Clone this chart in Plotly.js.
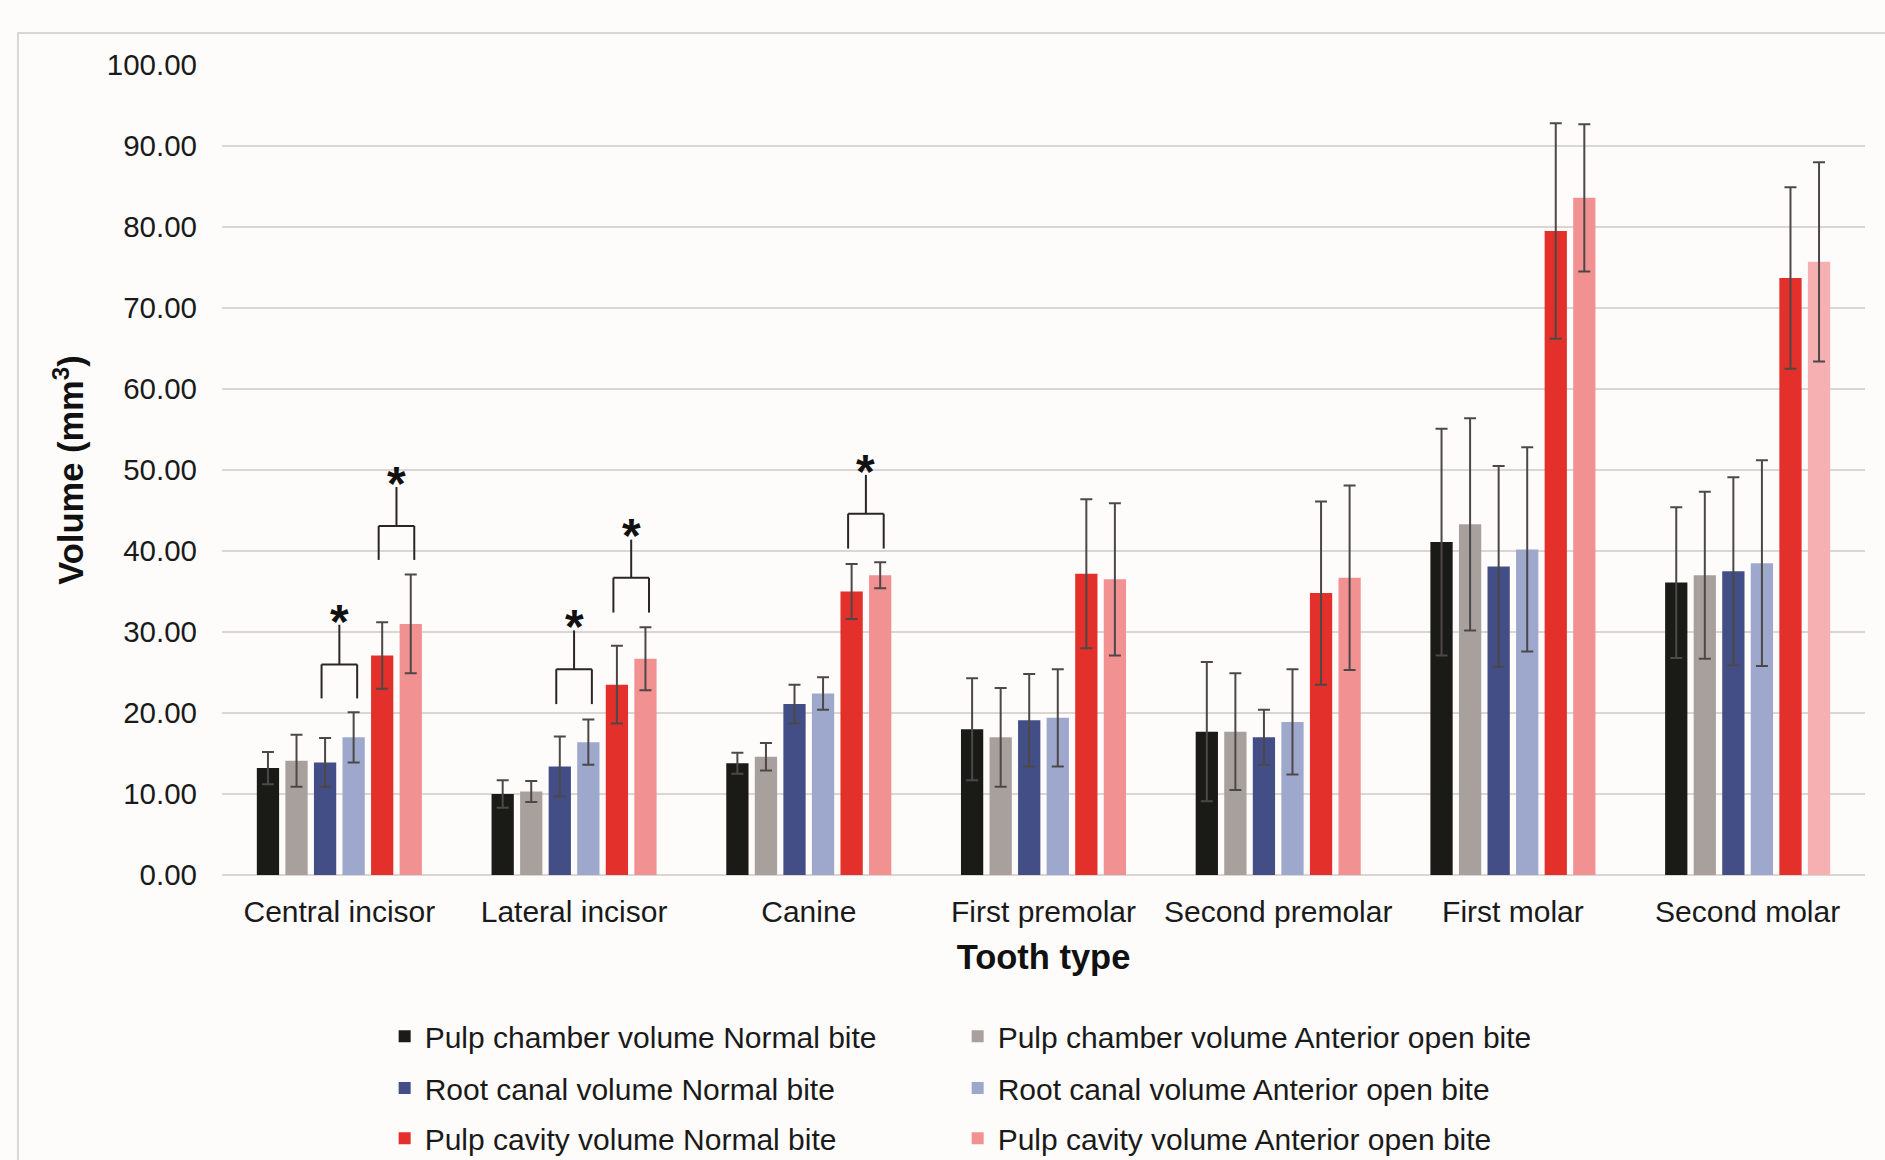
<!DOCTYPE html>
<html>
<head>
<meta charset="utf-8">
<script src="https://cdn.plot.ly/plotly-3.0.1.min.js"></script>
<style>html,body{margin:0;padding:0;background:#fdfcfb;}#chart{width:1885px;height:1160px;}</style>
</head>
<body>
<div id="chart"></div>
<script>
// ---- data ----
const categories = ['Central incisor', 'Lateral incisor', 'Canine', 'First premolar', 'Second premolar', 'First molar', 'Second molar'];
const seriesNames = [
  'Pulp chamber volume Normal bite',
  'Pulp chamber volume Anterior open bite',
  'Root canal volume Normal bite',
  'Root canal volume Anterior open bite',
  'Pulp cavity volume Normal bite',
  'Pulp cavity volume Anterior open bite'
];
const pulpChamberNormal = [13.2, 10.0, 13.8, 18.0, 17.7, 41.1, 36.1];
const pulpChamberNormalSD = [2.0, 1.7, 1.3, 6.3, 8.6, 14.0, 9.3];
const pulpChamberOpen = [14.1, 10.3, 14.6, 17.0, 17.7, 43.3, 37.0];
const pulpChamberOpenSD = [3.2, 1.3, 1.7, 6.1, 7.2, 13.1, 10.3];
const rootCanalNormal = [13.9, 13.4, 21.1, 19.1, 17.0, 38.1, 37.5];
const rootCanalNormalSD = [3.0, 3.7, 2.4, 5.7, 3.4, 12.4, 11.6];
const rootCanalOpen = [17.0, 16.4, 22.4, 19.4, 18.9, 40.2, 38.5];
const rootCanalOpenSD = [3.1, 2.8, 2.0, 6.0, 6.5, 12.6, 12.7];
const pulpCavityNormal = [27.1, 23.5, 35.0, 37.2, 34.8, 79.5, 73.7];
const pulpCavityNormalSD = [4.1, 4.8, 3.4, 9.2, 11.3, 13.3, 11.2];
const pulpCavityOpen = [31.0, 26.7, 37.0, 36.5, 36.7, 83.6, 75.7];
const pulpCavityOpenSD = [6.1, 3.9, 1.6, 9.4, 11.4, 9.1, 12.3];

// significance brackets (category, left series index, leg bottom, bracket level, stem top, star)
const sigCategory = ['Central incisor', 'Central incisor', 'Lateral incisor', 'Lateral incisor', 'Canine'];
const sigLeftSeries = [2, 4, 2, 4, 4];
const sigLegBottom = [21.8, 38.9, 21.1, 32.4, 40.3];
const sigLevel = [26.0, 43.1, 25.4, 36.7, 44.6];
const sigStemTop = [30.9, 47.9, 30.2, 41.4, 49.4];
const sigStar = [32.5, 49.6, 31.9, 43.1, 51.1];

// ---- styles ----
const colors = ['#1a1b16', '#a8a09d', '#444e86', '#9da8cc', '#e3302a', '#f29192'];
const pinkPerCategory = ['#f29192', '#f29192', '#f29192', '#f29192', '#f29192', '#f29192', '#f6b0b2'];
const FONT = 'Liberation Sans, Arial, Helvetica, sans-serif';
const BARGAP = 0.27;
const legendOf = ['legend', 'legend', 'legend2', 'legend2', 'legend3', 'legend3'];

const values = [pulpChamberNormal, pulpChamberOpen, rootCanalNormal, rootCanalOpen, pulpCavityNormal, pulpCavityOpen];
const sds = [pulpChamberNormalSD, pulpChamberOpenSD, rootCanalNormalSD, rootCanalOpenSD, pulpCavityNormalSD, pulpCavityOpenSD];

const traces = values.map((v, i) => ({
  type: 'bar',
  name: seriesNames[i],
  x: categories,
  y: v,
  legend: legendOf[i],
  marker: { color: i === 5 ? pinkPerCategory : colors[i], line: { width: 0 } },
  error_y: { type: 'data', array: sds[i], visible: true, color: '#4d4848', thickness: 2, width: 6 },
  hoverinfo: 'x+y+name'
}));

// bracket shapes via category index + bar offset
const nSeries = values.length;
const slot = (1 - BARGAP) / nSeries;
const seriesCenter = k => -(1 - BARGAP) / 2 + (k + 0.5) * slot;
const shapes = [];
const annotations = [];
sigCategory.forEach((c, j) => {
  const idx = categories.indexOf(c);
  const k = sigLeftSeries[j];
  const xl = idx + seriesCenter(k) - 0.015;
  const xr = idx + seriesCenter(k + 1) + 0.015;
  const xm = (xl + xr) / 2;
  const ln = { color: '#2a2626', width: 2 };
  shapes.push({ type: 'line', xref: 'x', yref: 'y', x0: xl, x1: xl, y0: sigLegBottom[j], y1: sigLevel[j], line: ln });
  shapes.push({ type: 'line', xref: 'x', yref: 'y', x0: xr, x1: xr, y0: sigLegBottom[j], y1: sigLevel[j], line: ln });
  shapes.push({ type: 'line', xref: 'x', yref: 'y', x0: xl, x1: xr, y0: sigLevel[j], y1: sigLevel[j], line: ln });
  shapes.push({ type: 'line', xref: 'x', yref: 'y', x0: xm, x1: xm, y0: sigLevel[j], y1: sigStemTop[j], line: ln });
  annotations.push({ xref: 'x', yref: 'y', x: xm, y: sigStar[j], text: '<b>*</b>', showarrow: false,
    yanchor: 'middle', xanchor: 'center', yshift: -10, font: { family: FONT, size: 48, color: '#111' } });
});
// outer frame
shapes.push({ type: 'rect', xref: 'paper', yref: 'paper', x0: -0.1242, x1: 1.3, y0: 1.0395, y1: -0.5,
  line: { color: '#dcd6d3', width: 2 }, fillcolor: 'rgba(0,0,0,0)', layer: 'below' });

const legendBase = {
  orientation: 'h', xanchor: 'left', yanchor: 'middle', x: 0.099,
  entrywidth: 528, entrywidthmode: 'pixels', bgcolor: 'rgba(0,0,0,0)',
  font: { family: FONT, size: 30, color: '#1a1a1a' }, itemclick: false, itemdoubleclick: false
};

const layout = {
  width: 1885, height: 1160,
  margin: { l: 222, r: 20, t: 65, b: 285, autoexpand: false },
  paper_bgcolor: '#fdfcfb', plot_bgcolor: '#fdfcfb',
  font: { family: FONT, color: '#1a1a1a' },
  barmode: 'group', bargap: BARGAP, bargroupgap: 0.22,
  showlegend: true,
  legend: Object.assign({}, legendBase, { y: -0.199 }),
  legend2: Object.assign({}, legendBase, { y: -0.263 }),
  legend3: Object.assign({}, legendBase, { y: -0.325 }),
  xaxis: {
    type: 'category', ticks: '', showgrid: false, showline: false, zeroline: false,
    tickfont: { family: FONT, size: 30, color: '#1a1a1a' }, ticklabelstandoff: 16,
    title: { text: '<b>Tooth type</b>', font: { family: FONT, size: 34.5, color: '#111' }, standoff: 17 }
  },
  yaxis: {
    range: [0, 100], dtick: 10, tick0: 0, tickformat: '.2f', ticks: '',
    showgrid: true, gridcolor: '#dcd6d3', gridwidth: 2,
    zeroline: true, zerolinecolor: '#dcd6d3', zerolinewidth: 2, showline: false,
    tickfont: { family: FONT, size: 29.5, color: '#1a1a1a' }, ticklabelstandoff: 24,
    title: { text: '<b>Volume (mm<sup>3</sup>)</b>', font: { family: FONT, size: 34.5, color: '#111' }, standoff: 12 }
  },
  shapes: shapes,
  annotations: annotations
};

Plotly.newPlot('chart', traces, layout, { displayModeBar: false, staticPlot: false });
</script>
</body>
</html>
